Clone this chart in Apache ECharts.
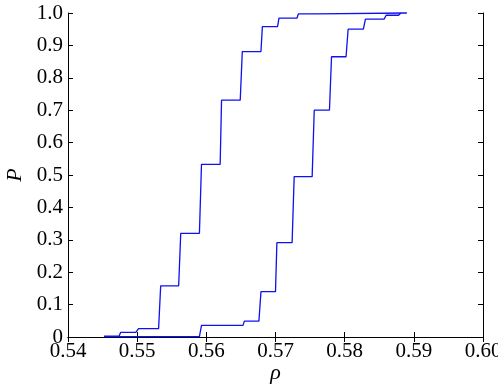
<!DOCTYPE html>
<html>
<head>
<meta charset="utf-8">
<script src="https://cdn.jsdelivr.net/npm/echarts@6/dist/echarts.min.js"></script>
<style>html,body{margin:0;padding:0;background:#fff;}#c{width:498px;height:386px;}</style>
</head>
<body>
<div id="c"></div>
<script>
// Curve A (left) empirical CDF points
const rhoA = [0.5452,0.5474,0.5476,0.5498,0.5502,0.5531,0.5534,0.5560,0.5563,0.5590,0.5593,0.5620,0.5622,0.5649,0.5652,0.5679,0.5681,0.5703,0.5705,0.5731,0.5733,0.5760,0.5762,0.5890];
const pA   = [0.003,0.003,0.014,0.014,0.026,0.026,0.158,0.158,0.320,0.320,0.533,0.533,0.731,0.731,0.881,0.881,0.958,0.958,0.984,0.984,0.997,0.997,1.000,1.000];
// Curve B (right)
const rhoB = [0.5452,0.5590,0.5593,0.5653,0.5655,0.5676,0.5679,0.5700,0.5702,0.5724,0.5727,0.5753,0.5756,0.5778,0.5781,0.5802,0.5805,0.5827,0.5830,0.5857,0.5860,0.5878,0.5881];
const pB   = [0.001,0.001,0.036,0.036,0.049,0.049,0.140,0.140,0.291,0.291,0.495,0.495,0.700,0.700,0.865,0.865,0.950,0.950,0.981,0.981,0.993,0.993,1.000];
const xTicks = [0.54,0.55,0.56,0.57,0.58,0.59,0.60];
const yTicks = [0,0.1,0.2,0.3,0.4,0.5,0.6,0.7,0.8,0.9,1.0];

const font = '"Liberation Serif", "Times New Roman", serif';
const dataA = rhoA.map((r,i)=>[r,pA[i]]);
const dataB = rhoB.map((r,i)=>[r,pB[i]]);
const axisLine = {show:true, lineStyle:{color:'#000', width:1}};
const tickIn = {show:true, inside:true, length:5, lineStyle:{color:'#000', width:1}};
const chart = echarts.init(document.getElementById('c'));
chart.setOption({
  animation:false,
  grid:{left:68, right:15, top:13, bottom:49, containLabel:false, outerBoundsMode:'none'},
  xAxis:[{
    type:'value', min:xTicks[0], max:xTicks[xTicks.length-1], interval:0.01,
    position:'bottom', axisLine, axisTick:tickIn, splitLine:{show:false},
    axisLabel:{color:'#000', fontFamily:font, fontSize:21, margin:4, formatter:v=>v.toFixed(2)},
    name:'ρ', nameLocation:'middle', nameGap:25, nameMoveOverlap:false,
    nameTextStyle:{color:'#000', fontFamily:font, fontSize:22, fontStyle:'italic', verticalAlign:'top'}
  },{
    type:'value', min:xTicks[0], max:xTicks[xTicks.length-1], interval:0.01,
    position:'top', axisLine, axisTick:tickIn, axisLabel:{show:false}, splitLine:{show:false}
  }],
  yAxis:[{
    type:'value', min:0, max:1, interval:0.1,
    position:'left', axisLine, axisTick:tickIn, splitLine:{show:false},
    axisLabel:{color:'#000', fontFamily:font, fontSize:21, margin:5, formatter:v=>v===0?'0':v.toFixed(1)},
    name:'P', nameLocation:'middle', nameGap:42, nameRotate:90,
    nameTextStyle:{color:'#000', fontFamily:font, fontSize:22, fontStyle:'italic'}
  },{
    type:'value', min:0, max:1, interval:0.1,
    position:'right', axisLine, axisTick:tickIn, axisLabel:{show:false}, splitLine:{show:false}
  }],
  series:[
    {type:'line', data:dataA, showSymbol:false, symbol:'none', lineStyle:{color:'#1010f0', width:1.3}, clip:false},
    {type:'line', data:dataB, showSymbol:false, symbol:'none', lineStyle:{color:'#1010f0', width:1.3}, clip:false}
  ]
});
</script>
</body>
</html>
